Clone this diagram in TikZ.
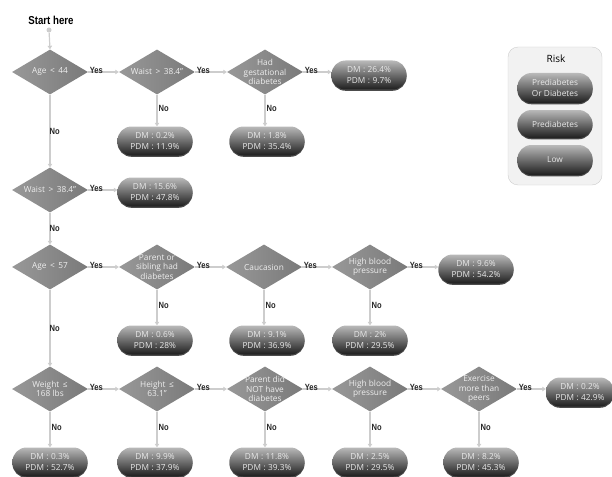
\documentclass[tikz,border=0pt]{standalone}
\usepackage{fontspec}
\setmainfont{Open Sans}
\newfontfamily\lblfont[FakeStretch=0.84]{Liberation Sans}
\usetikzlibrary{shapes.geometric,shadows,arrows.meta}
\definecolor{diaL}{RGB}{152,152,152}
\definecolor{diaR}{RGB}{122,122,122}
\definecolor{diatxt}{RGB}{238,238,238}
\definecolor{terT}{RGB}{185,185,185}
\definecolor{terM}{RGB}{115,115,115}
\definecolor{terB}{RGB}{30,30,30}
\definecolor{tertxt}{RGB}{232,232,232}
\definecolor{lineC}{RGB}{205,205,205}
\definecolor{legF}{RGB}{242,242,242}
\definecolor{legD}{RGB}{205,205,205}
\newcommand{\sep}{\hspace{0.3em}:\hspace{0.3em}}
\tikzset{
  dia/.style={diamond, minimum width=76pt, minimum height=45pt, inner sep=0pt,
    left color=diaL, right color=diaR},
  diatext/.style={text=diatxt, font=\fontsize{8.3}{9.3}\selectfont, align=center, inner sep=0pt},
  term/.style={rectangle, rounded corners=14pt, minimum width=75pt, minimum height=29pt,
    inner sep=1pt, top color=terT, middle color=terM, bottom color=terB, text=tertxt,
    font=\fontsize{8.3}{11.5}\selectfont, align=center,
    drop shadow={shadow xshift=0pt, shadow yshift=-1.3pt, opacity=0.7, fill=black}},
  conn/.style={draw=lineC, line width=1.2pt, -{Triangle[length=3.5pt,width=4.5pt]}},
  lbl/.style={font=\lblfont\bfseries\fontsize{9}{10}\selectfont, text=black!85, inner sep=1pt},
}
\begin{document}
\begin{tikzpicture}[x=1pt,y=-1pt]
\useasboundingbox (0,0) rectangle (612,476);
% legend
\node[draw=legD, fill=legF, rounded corners=10pt, minimum width=94pt, minimum height=138pt, inner sep=0pt] (leg) at (555,116) {};
\node[font=\fontsize{10}{11}\selectfont] (risk) at (556,59) {Risk};
\node[term, minimum height=30pt] (l1) at (555,88) {Prediabetes\\Or Diabetes};
\node[term, minimum height=28pt] (l2) at (555,124) {Prediabetes};
\node[term, minimum height=30pt] (l3) at (555,160) {Low};
% start
\node[lbl, font=\lblfont\bfseries\fontsize{11.5}{12}\selectfont, text=black] (start) at (51,20) {Start here};
\node[circle, fill=lineC, inner sep=0pt, minimum size=5pt] (sdot) at (49,30) {};
% row 1
\node[dia] (d1) at (50,72) {};
\node[dia] (d2) at (157,72) {};
\node[dia] (d3) at (265,72) {};
\node[diatext] at (d1) {Age \,<\, 44};
\node[diatext] at (d2) {Waist \,>\, 38.4''};
\node[diatext] at (d3) {Had\\gestational\\diabetes};
\node[term] (t1) at (369,75) {DM\sep 26.4\%\\PDM\sep 9.7\%};
\node[term] (t2) at (155,141) {DM\sep 0.2\%\\PDM\sep 11.9\%};
\node[term] (t3) at (267,141) {DM\sep 1.8\%\\PDM\sep 35.4\%};
% row 2
\node[dia] (d4) at (50,190) {};
\node[diatext] at (d4) {Waist \,>\, 38.4''};
\node[term] (t4) at (155,192) {DM\sep 15.6\%\\PDM\sep 47.8\%};
% row 3
\node[dia] (d5) at (50,267) {};
\node[dia] (d6) at (157,267) {};
\node[dia] (d7) at (264,267) {};
\node[dia] (d8) at (370,267) {};
\node[diatext] at (d5) {Age \,<\, 57};
\node[diatext] at (d6) {Parent or\\sibling had\\diabetes};
\node[diatext] at (d7) {Caucasion};
\node[diatext] at (d8) {High blood\\pressure};
\node[term] (t5) at (476,269) {DM\sep 9.6\%\\PDM\sep 54.2\%};
\node[term] (t6) at (155,340) {DM\sep 0.6\%\\PDM\sep 28\%};
\node[term] (t7) at (267,340) {DM\sep 9.1\%\\PDM\sep 36.9\%};
\node[term] (t8) at (370,340) {DM\sep 2\%\\PDM\sep 29.5\%};
% row 4
\node[dia] (d9) at (50,389) {};
\node[dia] (d10) at (157,389) {};
\node[dia] (d11) at (265,389) {};
\node[dia] (d12) at (370,389) {};
\node[dia] (d13) at (479,389) {};
\node[diatext] at (d9) {Weight \,≤\\168 lbs};
\node[diatext] at (d10) {Height \,≤\\63.1''};
\node[diatext] at (d11) {Parent did\\NOT have\\diabetes};
\node[diatext] at (d12) {High blood\\pressure};
\node[diatext] at (d13) {Exercise\\more than\\peers};
\node[term, minimum width=68pt] (t9) at (580,392) {DM\sep 0.2\%\\PDM\sep 42.9\%};
\node[term] (b1) at (50,462) {DM\sep 0.3\%\\PDM\sep 52.7\%};
\node[term] (b2) at (155,462) {DM\sep 9.9\%\\PDM\sep 37.9\%};
\node[term] (b3) at (267,462) {DM\sep 11.8\%\\PDM\sep 39.3\%};
\node[term] (b4) at (370,462) {DM\sep 2.5\%\\PDM\sep 29.5\%};
\node[term] (b5) at (481,462) {DM\sep 8.2\%\\PDM\sep 45.3\%};
% connectors
\draw[conn] (sdot) -- (d1.north);
\draw[conn] (d1.east) -- node[lbl, pos=0, anchor=west, yshift=1.5pt]{Yes} (d2.west);
\draw[conn] (d2.east) -- node[lbl, pos=0, anchor=west, yshift=1.5pt]{Yes} (d3.west);
\draw[conn] (d3.east) -- node[lbl, pos=0, anchor=west, yshift=1.5pt]{Yes} (d3.east -| t1.west);
\draw[conn] (d2.south) -- node[lbl, pos=0.45, anchor=west]{No} (d2.south |- t2.north);
\draw[conn] (d3.south) -- node[lbl, pos=0.45, anchor=west]{No} (d3.south |- t3.north);
\draw[conn] (d1.south) -- node[lbl, midway, anchor=west, xshift=-2pt]{No} (d4.north);
\draw[conn] (d4.east) -- node[lbl, pos=0, anchor=west, yshift=1.5pt]{Yes} (d4.east -| t4.west);
\draw[conn] (d4.south) -- node[lbl, midway, anchor=west, xshift=-2pt]{No} (d5.north);
\draw[conn] (d5.east) -- node[lbl, pos=0, anchor=west, yshift=1.5pt]{Yes} (d6.west);
\draw[conn] (d6.east) -- node[lbl, pos=0, anchor=west, yshift=1.5pt]{Yes} (d7.west);
\draw[conn] (d7.east) -- node[lbl, pos=0, anchor=west, yshift=1.5pt]{Yes} (d8.west);
\draw[conn] (d8.east) -- node[lbl, pos=0, anchor=west, yshift=1.5pt]{Yes} (d8.east -| t5.west);
\draw[conn] (d6.south) -- node[lbl, pos=0.45, anchor=west]{No} (d6.south |- t6.north);
\draw[conn] (d7.south) -- node[lbl, pos=0.45, anchor=west]{No} (d7.south |- t7.north);
\draw[conn] (d8.south) -- node[lbl, pos=0.45, anchor=west]{No} (d8.south |- t8.north);
\draw[conn] (d5.south) -- node[lbl, midway, anchor=west, xshift=-2pt]{No} (d9.north);
\draw[conn] (d9.east) -- node[lbl, pos=0, anchor=west, yshift=1.5pt]{Yes} (d10.west);
\draw[conn] (d10.east) -- node[lbl, pos=0, anchor=west, yshift=1.5pt]{Yes} (d11.west);
\draw[conn] (d11.east) -- node[lbl, pos=0, anchor=west, yshift=1.5pt]{Yes} (d12.west);
\draw[conn] (d12.east) -- node[lbl, pos=0, anchor=west, yshift=1.5pt]{Yes} (d13.west);
\draw[conn] (d13.east) -- node[lbl, pos=0, anchor=west, yshift=1.5pt]{Yes} (d13.east -| t9.west);
\draw[conn] (d9.south) -- node[lbl, pos=0.45, anchor=west]{No} (d9.south |- b1.north);
\draw[conn] (d10.south) -- node[lbl, pos=0.45, anchor=west]{No} (d10.south |- b2.north);
\draw[conn] (d11.south) -- node[lbl, pos=0.45, anchor=west]{No} (d11.south |- b3.north);
\draw[conn] (d12.south) -- node[lbl, pos=0.45, anchor=west]{No} (d12.south |- b4.north);
\draw[conn] (d13.south) -- node[lbl, pos=0.45, anchor=west]{No} (d13.south |- b5.north);
\end{tikzpicture}
\end{document}
